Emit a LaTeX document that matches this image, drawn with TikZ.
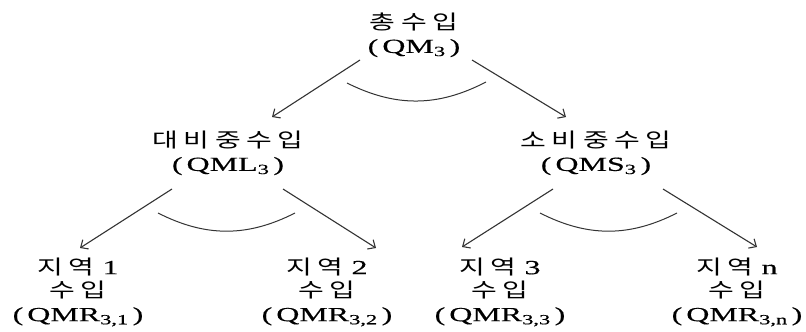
\documentclass[tikz,border=0pt]{standalone}
\usepackage{fontspec}
\setmainfont{Liberation Serif}[FakeStretch=1.6,FakeBold=0.4]
\newfontfamily\kr{Noto Sans CJK KR}[FakeStretch=1.4,LetterSpace=28]
\usetikzlibrary{arrows.meta,calc}
\newcommand\lab[2]{(\hspace{4pt}#1\textsubscript{#2}\hspace{4pt})}
\tikzset{
  lbl/.style={font=\fontsize{20}{23.5}\selectfont, align=center, inner sep=0pt, text=black},
  arr/.style={draw=black!80, line width=1.1pt, -{Straight Barb[length=6pt,width=11pt,line width=1.1pt]}},
  arcline/.style={draw=black!80, line width=1pt}
}
\begin{document}
\begin{tikzpicture}[x=1pt,y=-1pt]
\useasboundingbox (0,0) rectangle (806,332);
% nodes
\node[lbl] (top) at (414,35) {{\kr 총수입}\\\lab{QM}{3}};
\node[lbl] (ml) at (228,153) {{\kr 대비중수입}\\\lab{QML}{3}};
\node[lbl] (ms) at (596,153) {{\kr 소비중수입}\\\lab{QMS}{3}};
\node[lbl] (r1) at (78,292) {{\kr 지역}~1\\{\kr 수입}\\\lab{QMR}{3,1}};
\node[lbl] (r2) at (327,292) {{\kr 지역}~2\\{\kr 수입}\\\lab{QMR}{3,2}};
\node[lbl] (r3) at (500,292) {{\kr 지역}~3\\{\kr 수입}\\\lab{QMR}{3,3}};
\node[lbl] (rn) at (737,292) {{\kr 지역}~n\\{\kr 수입}\\\lab{QMR}{3,n}};
% arrows level 1
\draw[arr] ($(top)+(-54,25)$) -- ($(ml)+(44,-36)$);
\draw[arr] ($(top)+(58,25)$) -- ($(ms)+(-30,-36)$);
\draw[arcline] ($(top)+(-67,48)$) to[bend right=27] ($(top)+(72,47)$);
% arrows level 2
\draw[arr] ($(ml)+(-56,36)$) -- ($(r1)+(2,-44)$);
\draw[arr] ($(ml)+(55,36)$) -- ($(r2)+(49,-44)$);
\draw[arcline] ($(ml)+(-70,60)$) to[bend right=27] ($(ml)+(67,60)$);
\draw[arr] ($(ms)+(-43,36)$) -- ($(r3)+(-38,-45)$);
\draw[arr] ($(ms)+(67,36)$) -- ($(rn)+(20,-45)$);
\draw[arcline] ($(ms)+(-56,60)$) to[bend right=27] ($(ms)+(81,60)$);
\end{tikzpicture}
\end{document}
